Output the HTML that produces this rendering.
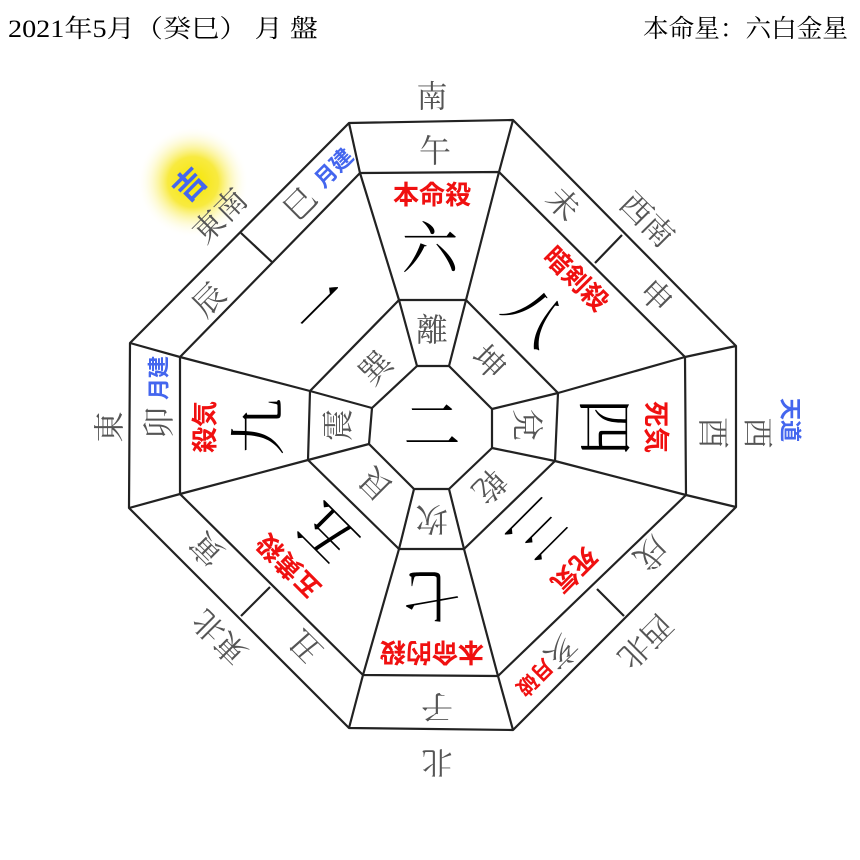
<!DOCTYPE html>
<html><head><meta charset="utf-8"><style>
html,body{margin:0;padding:0;background:#fff;width:860px;height:860px;overflow:hidden}
svg{display:block}
.g{font-family:"Liberation Serif","Noto Serif CJK SC",serif;fill:#555;font-size:32px}
.o{font-family:"Liberation Serif","Noto Serif CJK SC",serif;fill:#555;font-size:31px}
.r{font-family:"Liberation Sans","Noto Sans CJK JP",sans-serif;fill:#f01010;font-size:26px;font-weight:bold}
.b{font-family:"Liberation Sans","Noto Sans CJK JP",sans-serif;fill:#4466ee;font-size:22px;font-weight:bold}
.n{font-family:"Liberation Serif","Noto Serif CJK SC",serif;fill:#000;font-size:57px}
.h{font-family:"Liberation Serif","Noto Serif CJK SC",serif;fill:#000;font-size:25px}
</style></head><body>
<svg width="860" height="860" viewBox="0 0 860 860" xmlns="http://www.w3.org/2000/svg">
<defs><radialGradient id="glow"><stop offset="0" stop-color="#f6e600"/><stop offset="0.45" stop-color="#f8ea40"/><stop offset="1" stop-color="#fff" stop-opacity="0"/></radialGradient></defs>
<text class="h" x="8" y="37" textLength="310" lengthAdjust="spacingAndGlyphs">2021年5月（癸巳） 月 盤</text>
<text class="h" x="643" y="37" textLength="205" lengthAdjust="spacingAndGlyphs">本命星：六白金星</text>
<circle cx="193" cy="182" r="56" fill="url(#glow)"/>
<g fill="none" stroke="#222" stroke-width="2.2" stroke-linejoin="round">
<polygon points="349,123 513,120 736,346 736,507 513,730 349,728 129,508 130,343"/>
<polygon points="360,173 499,172 685,357 686,495 498,676 363,675 180,494 180,357"/>
<polygon points="399,300 466,300 558,393 555,461 464,549 399,549 308,460 310,391"/>
<polygon points="417,366 449,366 492,409 492,448 449,489 414,489 369,444 372,408"/>
<polyline points="417,366 399,300 360,173 349,123"/>
<polyline points="449,366 466,300 499,172 513,120"/>
<polyline points="492,409 558,393 685,357 736,346"/>
<polyline points="492,448 555,461 686,495 736,507"/>
<polyline points="449,489 464,549 498,676 513,730"/>
<polyline points="414,489 399,549 363,675 349,728"/>
<polyline points="369,444 308,460 180,494 129,508"/>
<polyline points="372,408 310,391 180,357 130,343"/>
<line x1="241" y1="233" x2="273" y2="263"/>
<line x1="595" y1="263" x2="622" y2="235"/>
<line x1="597" y1="589" x2="624" y2="616"/>
<line x1="241" y1="616" x2="270" y2="587"/>
</g>
<g text-anchor="middle" dominant-baseline="central">
<text class="n" x="432" y="427">二</text>
<text class="o" x="432" y="97">南</text>
<text class="o" x="110" y="427" transform="rotate(-90 110 427)">東</text>
<text class="o" x="757" y="433" transform="rotate(90 757 433)">西</text>
<text class="o" x="437" y="762" transform="rotate(180 437 762)">北</text>
<text class="o" x="220" y="216" transform="rotate(-45 220 216)">東南</text>
<text class="o" x="647" y="220" transform="rotate(45 647 220)">西南</text>
<text class="o" x="645" y="641" transform="rotate(135 645 641)">西北</text>
<text class="o" x="220" y="637" transform="rotate(-135 220 637)">東北</text>
<text class="b" x="190" y="185" transform="rotate(-45 190 185)" style="font-size:32px">吉</text>
<text class="b" x="790" y="420" transform="rotate(90 790 420)">天道</text>
<text class="g" x="435" y="151">午</text>
<text class="r" x="432" y="195">本命殺</text>
<text class="n" x="430" y="250">六</text>
<text class="g" x="432" y="330">離</text>
<text class="g" x="713" y="433" transform="rotate(90 713 433)">酉</text>
<text class="r" x="656" y="427" transform="rotate(90 656 427)">死気</text>
<text class="n" x="603" y="427" transform="rotate(90 603 427)">四</text>
<text class="g" x="527" y="425" transform="rotate(90 527 425)">兌</text>
<text class="g" x="437" y="707" transform="rotate(180 437 707)">子</text>
<text class="r" x="432" y="652" transform="rotate(180 432 652)">本命的殺</text>
<text class="n" x="432" y="593" transform="rotate(180 432 593)">七</text>
<text class="g" x="432" y="519" transform="rotate(180 432 519)">坎</text>
<text class="g" x="159" y="423" transform="rotate(-90 159 423)">卯</text>
<text class="b" x="159" y="378" transform="rotate(-90 159 378)">月建</text>
<text class="r" x="205" y="427" transform="rotate(-90 205 427)">殺気</text>
<text class="n" x="260" y="427" transform="rotate(-90 260 427)">九</text>
<text class="g" x="338" y="425" transform="rotate(-90 338 425)">震</text>
<text class="g" x="563" y="204" transform="rotate(45 563 204)">未</text>
<text class="g" x="656" y="296" transform="rotate(45 656 296)">申</text>
<text class="r" x="576" y="279" transform="rotate(45 576 279)">暗剣殺</text>
<text class="n" x="534" y="317" transform="rotate(45 534 317)">八</text>
<text class="g" x="489" y="362" transform="rotate(45 489 362)">坤</text>
<text class="g" x="651" y="553" transform="rotate(135 651 553)">戌</text>
<text class="g" x="561" y="652" transform="rotate(135 561 652)">亥</text>
<text class="r" x="534" y="677" transform="rotate(135 534 677)" style="font-size:21px">月破</text>
<text class="r" x="574" y="570" transform="rotate(135 574 570)">死気</text>
<text class="n" x="536" y="528" transform="rotate(135 536 528)">三</text>
<text class="g" x="489" y="486" transform="rotate(135 489 486)">乾</text>
<text class="g" x="207" y="549" transform="rotate(-135 207 549)">寅</text>
<text class="g" x="306" y="646" transform="rotate(-135 306 646)">丑</text>
<text class="r" x="289" y="566" transform="rotate(-135 289 566)">五黄殺</text>
<text class="n" x="329" y="532" transform="rotate(-135 329 532)">五</text>
<text class="g" x="376" y="484" transform="rotate(-135 376 484)">艮</text>
<text class="g" x="300" y="204" transform="rotate(-45 300 204)">巳</text>
<text class="b" x="334" y="168" transform="rotate(-45 334 168)">月建</text>
<text class="g" x="209" y="300" transform="rotate(-45 209 300)">辰</text>
<text class="n" x="323" y="309" transform="rotate(-45 323 309)">一</text>
<text class="g" x="376" y="368" transform="rotate(-45 376 368)">巽</text>
</g>
</svg>
</body></html>
